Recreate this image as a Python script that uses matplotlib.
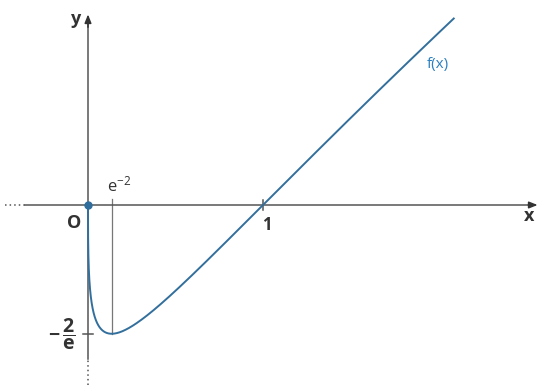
import matplotlib
matplotlib.use('Agg')

import matplotlib.pyplot as plt
import numpy as np

plt.rcParams['font.family'] = ['Open Sans', 'DejaVu Sans']
plt.rcParams['mathtext.fontset'] = 'custom'
plt.rcParams['mathtext.rm'] = 'Open Sans'
plt.rcParams['mathtext.it'] = 'Open Sans'
plt.rcParams['mathtext.bf'] = 'Open Sans:bold'

# marked points on the axes
x_marks = [np.exp(-2), 1.0]
x_mark_labels = [r'$\mathregular{e^{-2}}$', '1']
y_marks = [-2 / np.e]
y_mark_labels = [r'$\mathbf{-\,\dfrac{2}{e}}$']

# f(x) = sqrt(x) * ln(x) on (0, 2.09]
x_start, x_end = 1e-9, 2.09

axis_col = '#555555'
curve_col = '#336f9c'
label_col = '#2b80c0'


def f(x):
    return np.sqrt(x) * np.log(x)


fig = plt.figure(figsize=(5.44, 3.85), dpi=100)
ax = fig.add_axes([0, 0, 1, 1])
ax.set_xlim(-88 / 175, (544 - 88) / 175)
ax.set_ylim(-180 / 175, 205 / 175)
ax.axis('off')

# axes, solid part with dotted continuation
ax.plot([-0.36, 2.55], [0, 0], color=axis_col, lw=1.1, zorder=2)
ax.plot([-0.475, -0.36], [0, 0], color=axis_col, lw=1.1, ls=(0, (1, 2)), zorder=2)
ax.annotate('', xy=(2.585, 0), xytext=(2.5, 0),
            arrowprops=dict(arrowstyle='-|>,head_length=0.5,head_width=0.2',
                            color='#333333', lw=1.1))
ax.plot([0, 0], [-0.88, 1.05], color=axis_col, lw=1.1, zorder=2)
ax.plot([0, 0], [-1.03, -0.88], color=axis_col, lw=1.1, ls=(0, (1, 2)), zorder=2)
ax.annotate('', xy=(0, 1.105), xytext=(0, 1.0),
            arrowprops=dict(arrowstyle='-|>,head_length=0.5,head_width=0.2',
                            color='#333333', lw=1.1))

ax.text(-0.07, 1.06, 'y', fontsize=13, fontweight='bold', color='#333333',
        ha='center', va='center')
ax.text(2.52, -0.065, 'x', fontsize=13, fontweight='bold', color='#333333',
        ha='center', va='center')
ax.text(-0.08, -0.1, 'O', fontsize=13, fontweight='bold', color='#333333',
        ha='center', va='center')

# vertical guide from e^-2 down to the minimum, tick at 1
xm = x_marks[0]
ax.plot([xm, xm], [0.035, y_marks[0]], color='#777777', lw=0.9, zorder=1)
ax.text(xm + 0.045, 0.11, x_mark_labels[0], fontsize=12, color='#333333',
        ha='center', va='center')
ax.plot([x_marks[1], x_marks[1]], [-0.03, 0.03], color=axis_col, lw=1.1)
ax.text(x_marks[1] + 0.02, -0.115, x_mark_labels[1], fontsize=12,
        fontweight='bold', color='#333333', ha='center', va='center')

ax.plot([-0.03, 0.03], [y_marks[0], y_marks[0]], color=axis_col, lw=1.1)
ax.text(-0.15, y_marks[0] - 0.005, y_mark_labels[0], fontsize=14, color='#333333',
        ha='center', va='center')

xs = np.geomspace(x_start, x_end, 1500)
ax.plot(np.r_[0, xs], np.r_[0, f(xs)], color=curve_col, lw=1.4, zorder=3)
ax.plot([0], [0], 'o', color='#2f6d9c', ms=5, zorder=4)
ax.text(2.0, 0.805, 'f(x)', fontsize=11, color=label_col, ha='center', va='center')

plt.savefig('out.png', dpi=100)
